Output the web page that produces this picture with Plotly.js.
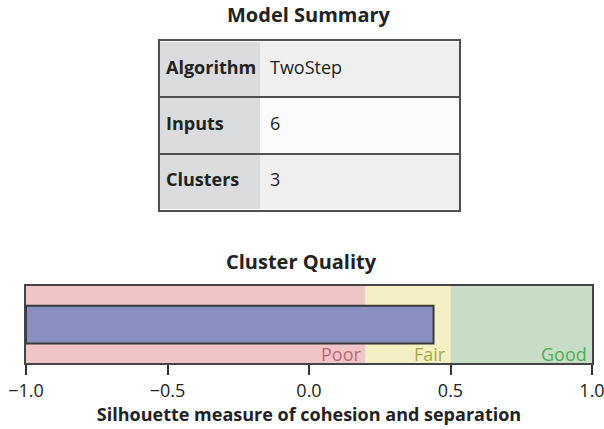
<!DOCTYPE html>
<html>
<head>
<meta charset="utf-8">
<script src="https://cdn.plot.ly/plotly-3.0.1.min.js"></script>
<style>
  html, body { margin: 0; padding: 0; background: #fff; }
  #chart { width: 604px; height: 429px; }
</style>
</head>
<body>
<div id="chart"></div>
<script>
// Model summary table
const summaryLabels = ['Algorithm', 'Inputs', 'Clusters'];
const summaryValues = ['TwoStep', '6', '3'];

// Quality bands on the silhouette scale
const bandNames = ['Poor', 'Fair', 'Good'];
const bandStarts = [-1.0, 0.2, 0.5];
const bandEnds = [0.2, 0.5, 1.0];
const bandColors = ['#efc5c7', '#f5f0c3', '#c8dcc6'];
const bandTextColors = ['#b86a72', '#a9a848', '#4dae5c'];

// Silhouette measure
const silhouette = 0.44;

const font = '"Open Sans", "DejaVu Sans", sans-serif';
const rowIdx = summaryLabels.map((_, i) => i + 0.5);

// table cells: heatmap bricks give the fills, y2 grid gives the row rules
const tableFill = {
    type: 'heatmap',
    xaxis: 'x2',
    yaxis: 'y2',
    x: [0, 100, 299],
    y: [0, 1, 2, 3],
    z: summaryLabels.map((_, i) => [0, i % 2 === 1 ? 2 : 1]),
    zmin: 0,
    zmax: 2,
    colorscale: [[0, '#dadcdd'], [0.5, '#efefef'], [1, '#fbfbfb']],
    showscale: false,
    ygap: 2,
    hoverinfo: 'skip'
};

const tableLabels = {
    type: 'scatter',
    mode: 'text',
    xaxis: 'x2',
    yaxis: 'y2',
    x: summaryLabels.map(() => 6),
    y: rowIdx,
    text: summaryLabels.map(s => '<b>' + s + '</b>'),
    textposition: 'middle right',
    textfont: { family: font, size: 18, color: '#222' },
    cliponaxis: false,
    hoverinfo: 'skip'
};

const tableValues = {
    type: 'scatter',
    mode: 'text',
    xaxis: 'x2',
    yaxis: 'y2',
    x: summaryValues.map(() => 110),
    y: rowIdx,
    text: summaryValues,
    textposition: 'middle right',
    textfont: { family: font, size: 18, color: '#222' },
    cliponaxis: false,
    hoverinfo: 'skip'
};

const bands = bandNames.map((name, i) => ({
    type: 'bar',
    orientation: 'h',
    y: [0],
    x: [bandEnds[i] - bandStarts[i]],
    base: [bandStarts[i]],
    width: 1,
    marker: { color: bandColors[i], line: { width: 0 } },
    hoverinfo: 'skip'
}));

const bar = {
    type: 'bar',
    orientation: 'h',
    y: [0],
    x: [silhouette - bandStarts[0]],
    base: [bandStarts[0]],
    width: 0.49,
    marker: { color: '#8a8fc1', line: { color: '#3a3a3a', width: 2 } },
    hovertemplate: 'Silhouette: %{x}<extra></extra>'
};

const bandLabels = bandNames.map((name, i) => ({
    x: bandEnds[i],
    y: -0.5,
    xref: 'x',
    yref: 'y',
    xanchor: 'right',
    yanchor: 'bottom',
    xshift: -3,
    yshift: -5,
    text: name,
    showarrow: false,
    font: { family: font, size: 18, color: bandTextColors[i] }
}));

const frameAxis = {
    showgrid: false,
    zeroline: false,
    showline: true,
    mirror: true,
    linecolor: '#505050',
    linewidth: 2,
    showticklabels: false,
    ticks: '',
    fixedrange: true
};

const layout = {
    width: 604,
    height: 429,
    margin: { l: 26, r: 12, t: 10, b: 66 },
    paper_bgcolor: '#fff',
    plot_bgcolor: '#fff',
    barmode: 'overlay',
    showlegend: false,
    font: { family: font, color: '#222' },
    xaxis: {
        range: [-1, 1],
        dtick: 0.5,
        tickformat: '.1f',
        ticks: 'outside',
        ticklen: 10,
        tickwidth: 2,
        tickcolor: '#333',
        ticklabelstandoff: 0,
        ticklabeloverflow: 'allow',
        showgrid: false,
        zeroline: false,
        showline: true,
        mirror: true,
        linecolor: '#444',
        linewidth: 2,
        tickfont: { family: font, size: 18, color: '#222' },
        title: {
            text: '<b>Silhouette measure of cohesion and separation</b>',
            font: { family: font, size: 18, color: '#222' },
            standoff: 5
        }
    },
    yaxis: Object.assign({}, frameAxis, {
        domain: [0, 0.218],
        range: [-0.5, 0.5],
        linecolor: '#444'
    }),
    xaxis2: Object.assign({}, frameAxis, {
        domain: [0.23675, 0.76502],
        range: [0, 299],
        anchor: 'y2'
    }),
    yaxis2: Object.assign({}, frameAxis, {
        domain: [0.4334, 0.9122],
        range: [3, 0],
        anchor: 'x2',
        showgrid: true,
        tickvals: [1, 2],
        gridcolor: '#505050',
        gridwidth: 2
    }),
    annotations: [
        {
            text: '<b>Model Summary</b>', x: 0.5, y: 0.986, xref: 'paper', yref: 'paper',
            xanchor: 'center', yanchor: 'middle',
            showarrow: false, font: { family: font, size: 20, color: '#222' }
        },
        {
            text: '<b>Cluster Quality</b>', x: 0.487, y: 0.287, xref: 'paper', yref: 'paper',
            xanchor: 'center', yanchor: 'middle',
            showarrow: false, font: { family: font, size: 20, color: '#222' }
        }
    ].concat(bandLabels)
};

Plotly.newPlot('chart', [tableFill, tableLabels, tableValues].concat(bands, [bar]), layout,
    { displayModeBar: false, staticPlot: true });
</script>
</body>
</html>
